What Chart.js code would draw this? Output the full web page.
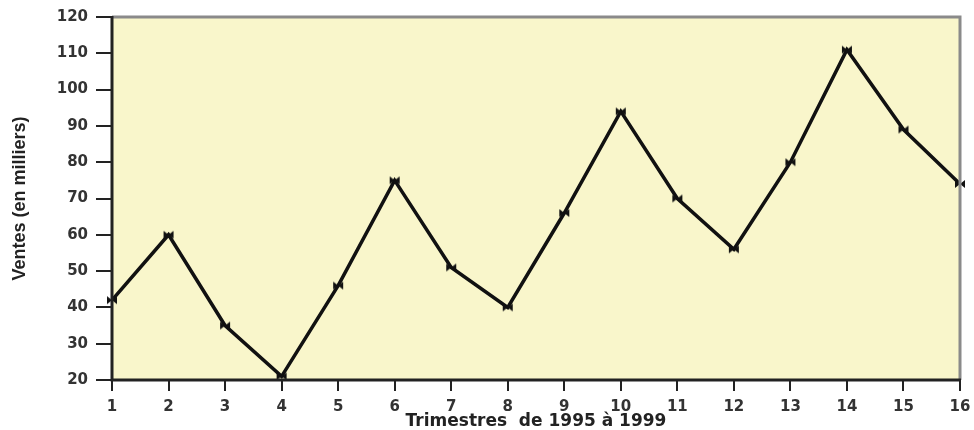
<!DOCTYPE html>
<html>
<head>
<meta charset="utf-8">
<title>Ventes trimestrielles</title>
<script src="https://cdn.jsdelivr.net/npm/chart.js@4/dist/chart.umd.min.js"></script>
<style>
  html, body { margin: 0; padding: 0; background: #ffffff; }
  #wrap { width: 974px; height: 430px; }
</style>
</head>
<body>
<div id="wrap"><canvas id="my-chart" width="974" height="430"></canvas></div>
<script>
'use strict';

// ******** DATA **************
let trimestres = ['1', '2', '3', '4', '5', '6', '7', '8', '9', '10', '11', '12', '13', '14', '15', '16'];
let ventes = [42, 60, 35, 21, 46, 75, 51, 40, 66, 94, 70, 56, 80, 111, 89, 74];
let yTicks = [20, 30, 40, 50, 60, 70, 80, 90, 100, 110, 120];

// ******** BOWTIE MARKER **************
function makeBowtie() {
  let c = document.createElement('canvas');
  c.width = 12;
  c.height = 10;
  let ctx = c.getContext('2d');
  ctx.fillStyle = '#111';
  ctx.beginPath();
  ctx.moveTo(1, 1);
  ctx.lineTo(6, 5);
  ctx.lineTo(1, 9);
  ctx.closePath();
  ctx.fill();
  ctx.beginPath();
  ctx.moveTo(11, 1);
  ctx.lineTo(6, 5);
  ctx.lineTo(11, 9);
  ctx.closePath();
  ctx.fill();
  return c;
}

// ******** PLOT AREA BACKGROUND + FRAME **************
let frame = {
  id: 'frame',
  beforeDraw(chart) {
    let a = chart.chartArea;
    let ctx = chart.ctx;
    ctx.save();
    ctx.fillStyle = '#f9f6cb';
    ctx.fillRect(a.left, a.top, a.right - a.left, a.bottom - a.top);
    ctx.restore();
  },
  afterDraw(chart) {
    let a = chart.chartArea;
    let ctx = chart.ctx;
    ctx.save();
    ctx.lineWidth = 3;
    ctx.strokeStyle = '#8a8a8a';
    ctx.beginPath();
    ctx.moveTo(a.left, a.top);
    ctx.lineTo(a.right, a.top);
    ctx.lineTo(a.right, a.bottom);
    ctx.stroke();
    ctx.strokeStyle = '#222';
    ctx.beginPath();
    ctx.moveTo(a.left, a.top - 1);
    ctx.lineTo(a.left, a.bottom);
    ctx.lineTo(a.right + 1, a.bottom);
    ctx.stroke();
    ctx.restore();
  }
};

let canvasElem = document.getElementById('my-chart');

let tickFont = { family: 'DejaVu Sans', size: 15, weight: 'bold' };

new Chart(canvasElem, {
  type: 'line',
  data: {
    labels: trimestres,
    datasets: [{
      data: ventes,
      borderColor: '#111',
      borderWidth: 3.5,
      tension: 0,
      pointStyle: makeBowtie(),
      pointRadius: 5,
      clip: false
    }]
  },
  options: {
    responsive: false,
    animation: false,
    layout: { padding: { top: 16, right: 14, left: 0, bottom: 0 } },
    plugins: {
      legend: { display: false },
      tooltip: { enabled: false }
    },
    scales: {
      x: {
        offset: false,
        afterFit(scale) {
          scale.height = 50;
          scale.paddingLeft = 0;
          scale.paddingRight = 0;
        },
        grid: { drawOnChartArea: false, tickLength: 11, color: '#222', lineWidth: 2 },
        border: { display: false },
        ticks: { color: '#333', font: tickFont, padding: 7, maxRotation: 0, autoSkip: false },
        title: {
          display: true,
          text: 'Trimestres  de 1995 à 1999',
          color: '#222',
          font: { family: 'DejaVu Sans', size: 17, weight: 'bold' },
          padding: { top: 0, bottom: -2 }
        }
      },
      y: {
        min: 20,
        max: 120,
        afterFit(scale) { scale.width = 112; },
        afterBuildTicks(scale) { scale.ticks = yTicks.map(v => ({ value: v })); },
        grid: { drawOnChartArea: false, tickLength: 16, color: '#222', lineWidth: 2 },
        border: { display: false },
        ticks: { color: '#333', font: tickFont, padding: 8 },
        title: {
          display: true,
          text: 'Ventes (en milliers)',
          color: '#222',
          font: { family: 'Liberation Sans', size: 18, weight: 'bold' },
          padding: { top: 9, bottom: 0 }
        }
      }
    }
  },
  plugins: [frame]
});
</script>
</body>
</html>
